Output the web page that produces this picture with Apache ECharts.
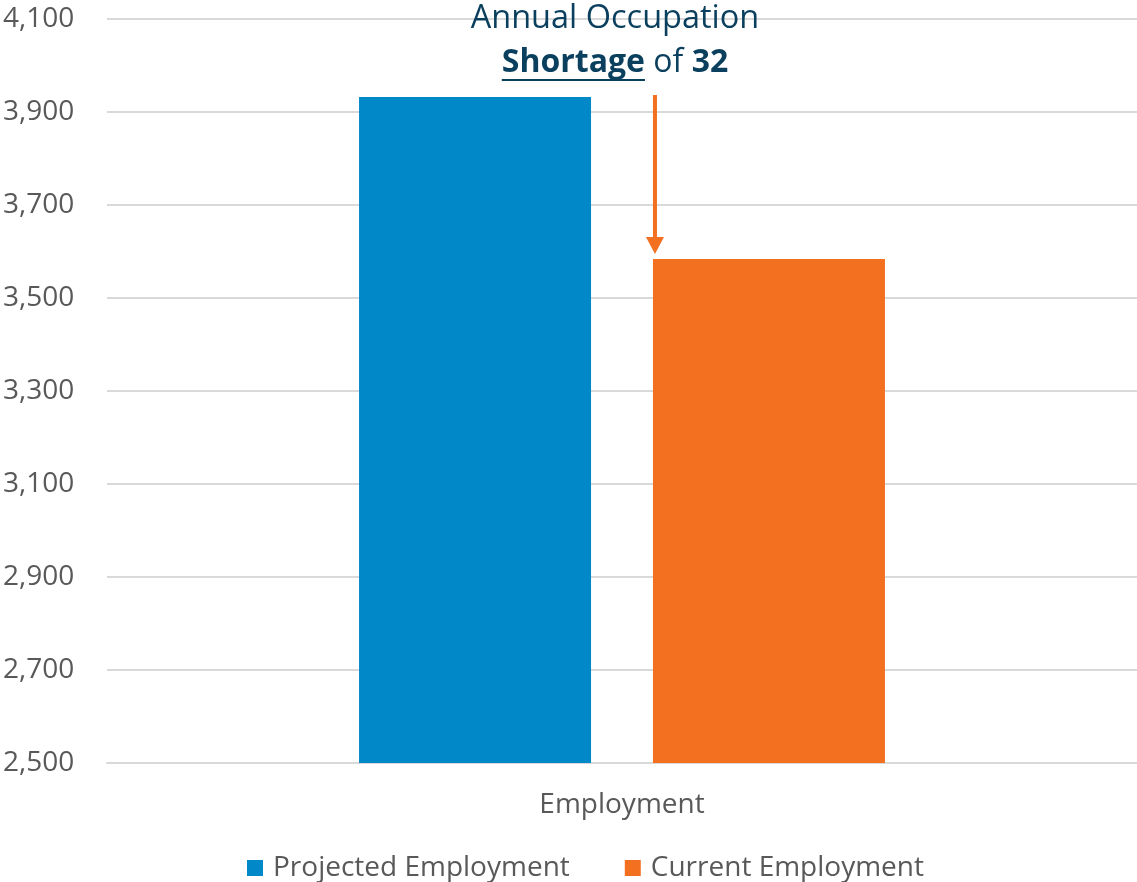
<!DOCTYPE html>
<html>
<head>
<meta charset="utf-8">
<script src="https://cdn.jsdelivr.net/npm/echarts@6/dist/echarts.min.js"></script>
<style>
  html, body { margin: 0; padding: 0; background: #fff; }
  #chart { width: 1137px; height: 882px; }
</style>
</head>
<body>
<div id="chart"></div>
<script>
// Employment comparison: projected vs current
const categories = ['Employment'];
const seriesNames = ['Projected Employment', 'Current Employment'];
const projectedValues = [3932];
const currentValues = [3584];
const shortageValue = 32;
const yTicks = { min: 2500, max: 4100, interval: 200 };

const FONT = '"Open Sans", sans-serif';
const BLUE = '#0088C8';
const ORANGE = '#F37021';
const TITLE_COLOR = '#0B3F5E';

const chart = echarts.init(document.getElementById('chart'), null, { renderer: 'canvas' });

const option = {
  animation: false,
  grid: { left: 106, right: 0, top: 19, bottom: 119, containLabel: false },
  legend: {
    data: seriesNames,
    top: 852,
    left: 247,
    itemWidth: 16,
    itemHeight: 16,
    itemGap: 55,
    icon: 'rect',
    padding: 0,
    textStyle: { fontFamily: FONT, fontSize: 28, lineHeight: 32, color: '#595959', padding: [0, 0, 0, 5] }
  },
  xAxis: {
    type: 'category',
    data: categories,
    axisTick: { show: false },
    axisLine: { lineStyle: { color: '#D9D9D9', width: 2 } },
    axisLabel: { fontFamily: FONT, fontSize: 28, color: '#595959', margin: 28 }
  },
  yAxis: {
    type: 'value',
    min: yTicks.min,
    max: yTicks.max,
    interval: yTicks.interval,
    axisLine: { show: false },
    axisTick: { show: false },
    splitLine: { lineStyle: { color: '#D9D9D9', width: 2 } },
    axisLabel: {
      fontFamily: FONT, fontSize: 28, color: '#595959',
      align: 'left', margin: 104,
      formatter: v => v.toLocaleString('en-US')
    }
  },
  series: [
    {
      name: seriesNames[0], type: 'bar', data: projectedValues,
      barWidth: 232, barGap: '26.7%',
      itemStyle: { color: BLUE }
    },
    {
      name: seriesNames[1], type: 'bar', data: currentValues,
      barWidth: 232,
      itemStyle: { color: ORANGE }
    }
  ]
};

chart.setOption(option);

// Annotation: headline text and the arrow pointing from the projected level down to the current bar
function measure(text, font) {
  const ctx = document.createElement('canvas').getContext('2d');
  ctx.font = font;
  return ctx.measureText(text).width;
}

function drawAnnotation() {
  const curLayout = chart.getModel().getSeriesByIndex(1).getData().getItemLayout(0);
  const yTop = chart.convertToPixel({ yAxisIndex: 0 }, projectedValues[0]);
  const yBottom = chart.convertToPixel({ yAxisIndex: 0 }, currentValues[0]);
  const arrowX = curLayout.x + 2;
  const shaftTop = yTop - 2;
  const tip = yBottom - 5;
  const headH = 17, headW = 18;

  const cx = 615;
  const size1 = 32.5;
  const size2 = 32;
  const titleFont = `${size1}px "Open Sans"`;
  const boldFont = `bold ${size2}px "Open Sans"`;
  const normFont = `${size2}px "Open Sans"`;
  const w1 = measure('Shortage', boldFont);
  const w2 = measure(' of ', normFont);
  const w3 = measure(String(shortageValue), boldFont);
  const total = w1 + w2 + w3;
  const startX = cx - total / 2;
  const line2Y = 63;

  chart.setOption({
    graphic: [
      {
        type: 'text', x: cx, y: 19, z: 10,
        style: {
          text: 'Annual Occupation', font: titleFont, fill: TITLE_COLOR,
          align: 'center', verticalAlign: 'middle'
        }
      },
      {
        type: 'text', x: startX, y: line2Y, z: 10,
        style: { text: 'Shortage', font: boldFont, fill: TITLE_COLOR, align: 'left', verticalAlign: 'middle' }
      },
      {
        type: 'text', x: startX + w1, y: line2Y, z: 10,
        style: { text: ' of ', font: normFont, fill: TITLE_COLOR, align: 'left', verticalAlign: 'middle' }
      },
      {
        type: 'text', x: startX + w1 + w2, y: line2Y, z: 10,
        style: { text: String(shortageValue), font: boldFont, fill: TITLE_COLOR, align: 'left', verticalAlign: 'middle' }
      },
      {
        type: 'line', z: 10,
        shape: { x1: startX, y1: 80, x2: startX + w1, y2: 80 },
        style: { stroke: TITLE_COLOR, lineWidth: 2 }
      },
      {
        type: 'line', z: 10,
        shape: { x1: arrowX, y1: shaftTop, x2: arrowX, y2: tip - headH + 1 },
        style: { stroke: ORANGE, lineWidth: 4 }
      },
      {
        type: 'polygon', z: 10,
        shape: { points: [[arrowX - headW / 2, tip - headH], [arrowX + headW / 2, tip - headH], [arrowX, tip]] },
        style: { fill: ORANGE }
      }
    ]
  });
}

drawAnnotation();
</script>
</body>
</html>
